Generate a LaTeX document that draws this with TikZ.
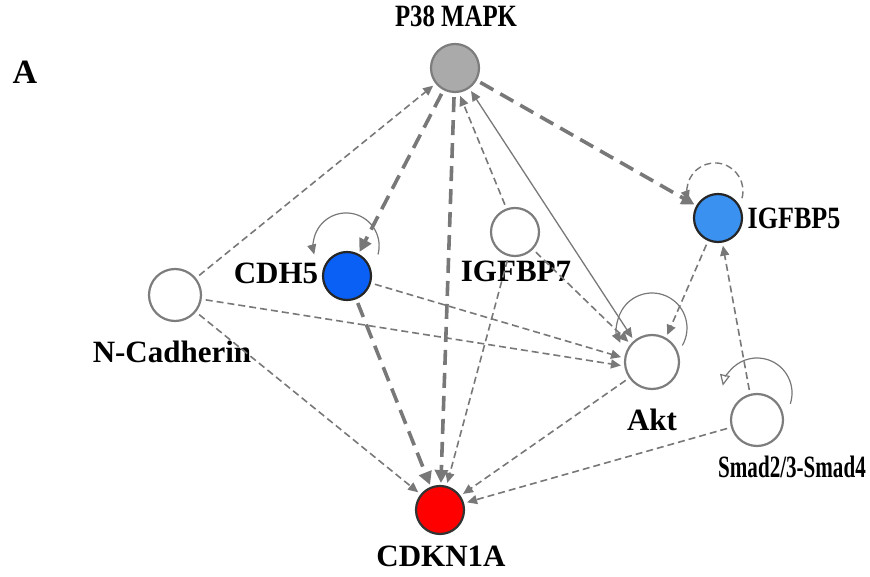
\documentclass[tikz,border=0pt]{standalone}
\usepackage{fontspec}
\setmainfont{Liberation Serif}
\usetikzlibrary{arrows.meta}
\definecolor{edge}{RGB}{120,120,120}
\definecolor{rim}{RGB}{125,125,125}
\definecolor{cdhblue}{RGB}{10,95,245}
\definecolor{igfblue}{RGB}{58,145,240}
\definecolor{p38gray}{RGB}{170,170,170}
\newcommand\sqz[2]{\scalebox{#1}[1]{#2}}
\tikzset{
  gene/.style={circle, minimum size=48pt, inner sep=0pt, line width=2.2pt, draw=rim, fill=white},
  lbl/.style={font=\fontsize{31}{31}\selectfont\bfseries, inner sep=0pt},
  thick dash/.style={draw=edge, line width=3.6pt, dash pattern=on 15pt off 8pt, -{Triangle[length=13pt,width=13pt]}},
  thin dash/.style={draw=edge, line width=1.6pt, dash pattern=on 7pt off 4pt, -{Triangle[length=10pt,width=9pt]}},
  thin solid/.style={draw=edge, line width=1.3pt, -{Triangle[length=10pt,width=9pt]}},
}
\begin{document}
\begin{tikzpicture}[x=1pt,y=-1pt]
\useasboundingbox (0,0) rectangle (870,577);
% nodes
\node[gene, fill=p38gray, draw=rim] (p38) at (455,68) {};
\node[gene, fill=cdhblue, draw=black!85] (cdh5) at (347,276) {};
\node[gene] (igfbp7) at (515,232) {};
\node[gene, fill=igfblue, draw=black!85] (igfbp5) at (718,218) {};
\node[gene, minimum size=52pt] (ncad) at (175,295) {};
\node[gene, minimum size=54pt] (akt) at (652,362) {};
\node[gene, minimum size=52pt] (smad) at (757,420) {};
\node[gene, fill=red, draw=black!80] (cdkn) at (440,510) {};
% labels
\node[lbl, font=\fontsize{34}{34}\selectfont\bfseries] (labA) at (25,72) {A};
\node[lbl] (lp38) at (456,16) {\sqz{0.8}{P38 MAPK}};
\node[lbl] (lcdh5) at (276,273) {CDH5};
\node[lbl] (ligfbp7) at (516,271) {IGFBP7};
\node[lbl] (ligfbp5) at (794,218) {\sqz{0.84}{IGFBP5}};
\node[lbl] (lncad) at (172,352) {N-Cadherin};
\node[lbl] (lakt) at (652,420) {Akt};
\node[lbl] (lsmad) at (792,467) {\sqz{0.68}{Smad2/3-Smad4}};
\node[lbl] (lcdkn) at (441,556) {CDKN1A};
% thick dashed edges
\draw[thick dash, shorten <=4pt, shorten >=2pt] (p38) -- (cdh5);
\draw[thick dash, shorten <=4pt, shorten >=2pt] (p38) -- (cdkn);
\draw[thick dash, shorten <=4pt, shorten >=2pt] (p38) -- (igfbp5);
\draw[thick dash, shorten <=4pt, shorten >=2pt] (cdh5) -- (cdkn);
% thin dashed edges
\draw[thin dash, shorten <=4pt, shorten >=3pt] (ncad) -- (p38);
\draw[thin dash, shorten <=4pt, shorten >=3pt] (ncad) -- ([yshift=-4pt]akt.west);
\draw[thin dash, shorten <=4pt, shorten >=3pt] (ncad) -- (cdkn);
\draw[thin dash, shorten <=4pt, shorten >=3pt] (cdh5) -- ([yshift=4pt]akt.west);
\draw[thin dash, shorten <=4pt, shorten >=3pt] (igfbp7.110) -- ([xshift=4pt]p38.south);
\draw[thin dash, shorten <=4pt, shorten >=3pt] (igfbp7) -- (cdkn);
\draw[thin dash, shorten <=4pt, shorten >=3pt] (igfbp7) -- (akt.140);
\draw[thin dash, shorten <=4pt, shorten >=3pt] (igfbp5) -- (akt.60);
\draw[thin dash, shorten <=4pt, shorten >=3pt] (smad.105) -- (igfbp5.-80);
\draw[thin dash, shorten <=4pt, shorten >=3pt] (smad) -- (cdkn);
\draw[thin dash, shorten <=4pt, shorten >=3pt] (akt) -- (cdkn);
% thin solid two-way edge
\draw[thin solid, {Triangle[length=10pt,width=9pt]}-{Triangle[length=10pt,width=9pt]}, shorten <=3pt, shorten >=3pt] (p38.-55) -- (akt.130);
% self loops (y axis points down: angles run clockwise on screen)
\draw[thin solid, line width=1.2pt] ([shift={(31,-21.5)}]cdh5.center) arc[start angle=15, end angle=-195, radius=33];
\draw[thin dash, line width=1.4pt] ([shift={(24,-19.8)}]igfbp5.center) arc[start angle=15, end angle=-200, radius=28];
\draw[thin solid, line width=1.2pt] ([shift={(30.3,-16.5)}]akt.center) arc[start angle=30, end angle=-205, radius=35];
\draw[draw=edge, line width=1.2pt, -{Triangle[open,length=11pt,width=10pt]}] ([shift={(33.3,-16.2)}]smad.center) arc[start angle=18, end angle=-168, radius=35];
\end{tikzpicture}
\end{document}
